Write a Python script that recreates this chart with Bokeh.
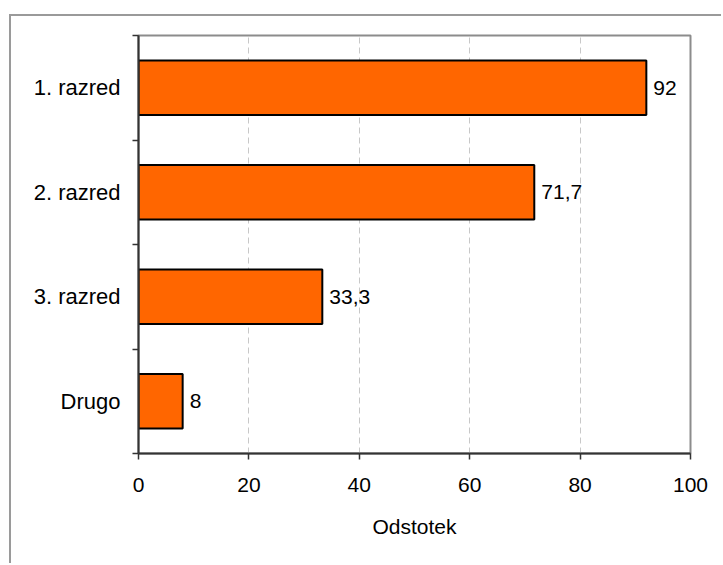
from bokeh.plotting import figure
from bokeh.models import Range1d, FixedTicker, ColumnDataSource
from bokeh.core.properties import value
from bokeh.embed import file_html
from bokeh.resources import INLINE

categories = ["1. razred", "2. razred", "3. razred", "Drugo"]
percentages = [92, 71.7, 33.3, 8]
x_ticks = [0, 20, 40, 60, 80, 100]
x_title = "Odstotek"

n = len(categories)
ys = [n - i - 0.5 for i in range(n)]
labels = [("%g" % v).replace(".", ",") for v in percentages]
src = ColumnDataSource(dict(y=ys, v=percentages, lab=labels, cat=categories))

FONT = "Liberation Sans"
FS = "21px"

p = figure(width=712, height=549, x_range=Range1d(0, 100), y_range=Range1d(0, n),
           output_backend="svg", toolbar_location=None,
           min_border_left=127, min_border_right=33, min_border_top=19, min_border_bottom=112)
# outer chart-area border (its right/bottom edges lie past the window)
p.styles = {"border-top": "2px solid #9a9a9a", "border-left": "2px solid #9a9a9a",
            "margin-left": "9px", "margin-top": "14px"}

p.outline_line_color = "#8c8c8c"
p.outline_line_width = 2
p.background_fill_color = "white"
p.border_fill_color = "white"

p.hbar(y="y", right="v", left=0, height=0.52, source=src,
       fill_color="#FF6600", line_color="black", line_width=2)
p.text(x="v", y="y", text="lab", source=src, x_offset=7, text_baseline="middle",
       text_font=value(FONT), text_font_size=FS, text_color="black")

# x axis
xa = p.xaxis[0]
xa.ticker = FixedTicker(ticks=x_ticks)
xa.axis_label = x_title
xa.axis_label_text_font = FONT
xa.axis_label_text_font_size = FS
xa.axis_label_text_font_style = "normal"
xa.axis_label_text_color = "black"
xa.axis_label_standoff = 20
xa.major_label_text_font = FONT
xa.major_label_text_font_size = FS
xa.major_label_text_color = "black"
xa.major_label_standoff = 18
xa.major_tick_out = 6
xa.major_tick_in = 0
xa.minor_tick_out = 0
xa.minor_tick_in = 0
xa.axis_line_color = "#333333"
xa.axis_line_width = 2
xa.major_tick_line_color = "#333333"
xa.major_tick_line_width = 1.5

# y axis
ya = p.yaxis[0]
ya.ticker = FixedTicker(ticks=ys, minor_ticks=list(range(n + 1)))
ya.major_label_overrides = {y: c for y, c in zip(ys, categories)}
ya.major_label_text_font = FONT
ya.major_label_text_font_size = "22px"
ya.major_label_text_color = "black"
ya.major_label_standoff = 12
ya.major_tick_out = 0
ya.major_tick_in = 0
ya.minor_tick_out = 6
ya.minor_tick_in = 0
ya.minor_tick_line_color = "#333333"
ya.minor_tick_line_width = 1.5
ya.axis_line_color = "#333333"
ya.axis_line_width = 2

p.xgrid.ticker = FixedTicker(ticks=x_ticks[1:-1])
p.xgrid.grid_line_color = "#c8c8c8"
p.xgrid.grid_line_dash = "6 4"
p.xgrid.grid_line_width = 1
p.ygrid.grid_line_color = None

open("out.html", "w").write(file_html(p, INLINE))
